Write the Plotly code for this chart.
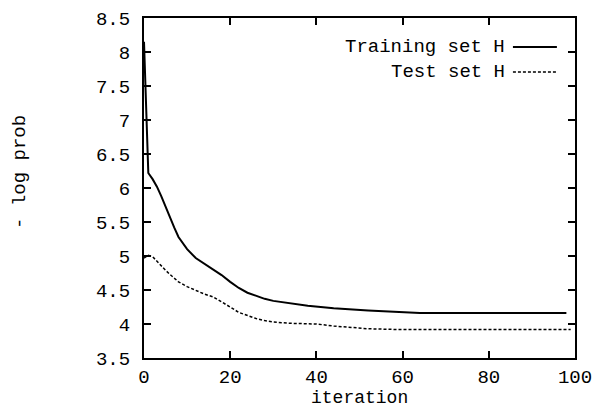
import plotly.graph_objects as go

train_iter = [0, 1, 2, 3, 4, 5, 6, 7, 8, 10, 12, 14, 16, 18, 20, 22, 24, 26, 28, 30, 34, 38, 44, 48, 52, 58, 64, 70, 76, 82, 86, 90, 94, 98]
train_vals = [8.15, 6.22, 6.13, 6.02, 5.88, 5.72, 5.57, 5.42, 5.28, 5.10, 4.97, 4.89, 4.81, 4.72, 4.62, 4.53, 4.46, 4.41, 4.37,
              4.34, 4.30, 4.27, 4.23, 4.21, 4.20, 4.18, 4.16, 4.16, 4.16, 4.16, 4.15, 4.15, 4.15, 4.16]

test_iter = [0, 1, 2, 3, 4, 5, 6, 7, 8, 10, 12, 14, 16, 18, 20, 22, 24, 26, 28, 30, 34, 40, 44, 48, 52, 58, 64, 70, 80, 90, 99]
test_vals = [4.97, 5.01, 4.99, 4.92, 4.85, 4.79, 4.73, 4.67, 4.62, 4.55, 4.49, 4.44, 4.40, 4.33, 4.25, 4.17, 4.12, 4.08, 4.05,
             4.03, 4.01, 4.00, 3.97, 3.95, 3.93, 3.92, 3.92, 3.92, 3.92, 3.92, 3.92]

y_ticks = [3.5, 4, 4.5, 5, 5.5, 6, 6.5, 7, 7.5, 8, 8.5]
x_ticks = [0, 20, 40, 60, 80, 100]

FONT = "Liberation Mono"
FS = 19

fig = go.Figure()
fig.add_trace(go.Scatter(x=train_iter, y=train_vals, mode="lines", name="Training set H",
                         line=dict(color="black", width=2)))
fig.add_trace(go.Scatter(x=test_iter, y=test_vals, mode="lines", name="Test set H",
                         line=dict(color="black", width=1.5, dash="3px,2px")))

axis_common = dict(showline=True, linecolor="black", linewidth=2, mirror="allticks",
                   ticks="inside", ticklen=7, tickwidth=2, tickcolor="black",
                   showgrid=False, zeroline=False, automargin=False,
                   tickfont=dict(family=FONT, size=FS, color="black"))

fig.update_xaxes(range=[0, 100], tickvals=x_ticks, ticktext=[str(v) for v in x_ticks],
                 ticklabelstandoff=0, **axis_common)
fig.update_yaxes(range=[3.5, 8.5], tickvals=y_ticks, ticktext=["%g" % v for v in y_ticks],
                 ticklabelstandoff=8, **axis_common)

# axis titles
fig.add_annotation(text="iteration", xref="paper", yref="paper", x=0.5, y=-0.153, xanchor="center",
                   yanchor="bottom", showarrow=False, font=dict(family=FONT, size=18, color="black"))
fig.add_annotation(text="- log prob", xref="paper", yref="paper", x=-0.288, y=0.547, textangle=-90,
                   xanchor="center", yanchor="middle",
                   showarrow=False, font=dict(family=FONT, size=FS, color="black"))

# gnuplot-style key: text followed by line sample
key_rows = [("Training set H", "solid", 2, 0.915), ("Test set H", "3px,2px", 1.5, 0.841)]
for label, dash, w, yy in key_rows:
    fig.add_annotation(text=label, xref="paper", yref="paper", x=0.842, y=yy, xanchor="right",
                       yanchor="middle", showarrow=False, font=dict(family=FONT, size=FS, color="black"))
    fig.add_shape(type="line", xref="paper", yref="paper", x0=0.856, x1=0.958, y0=yy, y1=yy,
                  line=dict(color="black", width=w, dash=dash))

fig.update_layout(width=593, height=410, margin=dict(l=144, r=18, t=18, b=52, autoexpand=False),
                  plot_bgcolor="white", paper_bgcolor="white", showlegend=False)

fig.write_html("out.html", config={"displayModeBar": False},
               post_script="document.body.style.margin='0';document.body.style.overflow='hidden';")
